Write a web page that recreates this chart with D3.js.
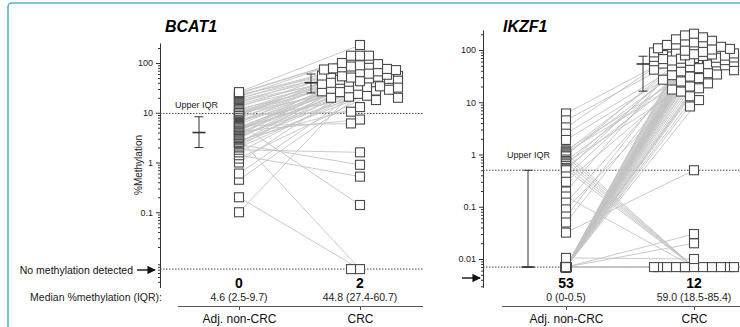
<!DOCTYPE html>
<html>
<head>
<meta charset="utf-8">
<script src="https://cdn.jsdelivr.net/npm/d3@7"></script>
<style>
  body { margin: 0; background: #fff; }
  svg { display: block; font-family: "Liberation Sans", Arial, Helvetica, sans-serif; }
</style>
</head>
<body>
<svg id="chart" width="740" height="327"></svg>
<script>
// ---- data (0 = no methylation detected) ----
var groups = ["Adj. non-CRC", "CRC"];

// BCAT1, paired per patient: adjacent tissue vs tumour
var bcat1Adj = [0.1, 0.2, 0.45, 0.6, 1.0, 1.2, 1.4, 1.6, 1.8, 2.0,
  2.1, 2.3, 2.4, 2.5, 2.5, 2.6, 2.8, 3.0, 3.1, 3.2,
  3.3, 3.5, 3.6, 3.8, 4.0, 4.2, 4.4, 4.5, 4.6, 4.6,
  4.8, 5.0, 5.2, 5.5, 5.8, 6.0, 6.3, 6.6, 7.0, 7.4,
  7.8, 8.2, 8.6, 9.0, 9.3, 9.5, 9.7, 9.7, 10, 10.5,
  11, 12, 13, 14, 15, 16, 17, 18, 19, 20,
  21, 22, 23, 24, 25, 26];
var bcat1Crc = [36, 0, 22, 28, 41, 18, 0.52, 30, 1.6, 24,
  47, 0.9, 20, 33, 52, 26, 13, 0, 39, 45,
  29, 60, 21, 50, 34, 7.3, 55, 31, 42, 66,
  27, 48, 38, 6.1, 53, 0.14, 70, 35, 44, 20,
  58, 40, 76, 10.5, 49, 63, 32, 80, 46, 56,
  72, 43, 85, 51, 61, 90, 54, 68, 100, 74,
  140, 95, 78, 140, 140, 230];
var bcat1Median = ["4.6 (2.5-9.7)", "44.8 (27.4-60.7)"];
var bcat1Bars = [[4.0, 2.0, 8.3], [40, 25, 60]];   // centre, low, high
var bcat1UpperIqr = 9.7;

// IKZF1
var ikzf1Adj = [6.1, 4.5, 3.3, 2.5, 1.9, 1.2, 1.14, 1.1, 1.05, 1.0,
  0.95, 0.92, 0.8, 0.75, 0.7, 0.7, 0.65, 0.6, 0.55, 0.52,
  0.5, 0.38, 0.30, 0.196, 0.157, 0.12, 0.089, 0.065, 0.05, 0.032,
  0.0105,
  0, 0, 0, 0, 0, 0, 0, 0, 0, 0,
  0, 0, 0, 0, 0, 0, 0, 0, 0, 0,
  0, 0, 0, 0, 0, 0, 0, 0, 0, 0,
  0, 0, 0, 0, 0, 0, 0, 0, 0, 0,
  0, 0, 0, 0, 0, 0, 0, 0, 0, 0,
  0, 0, 0];
var ikzf1Crc = [120, 95, 150, 75, 60, 42, 88, 33, 0, 66,
  110, 0, 0, 53, 0, 25, 80, 0, 47, 0,
  100, 70, 36, 130, 0, 58, 29, 85, 62, 0.5,
  0.01,
  0, 0, 0, 0, 0, 0.02, 0.03, 8.3, 11, 13,
  16, 17.5, 18.5, 20, 23, 27, 31, 34, 39, 41,
  45, 49, 51, 55, 57, 59, 61, 63, 64, 67,
  68, 71, 72, 74, 77, 78, 79, 82, 83, 86,
  90, 92, 97, 102, 105, 108, 115, 125, 140, 160,
  175, 190, 205];
var ikzf1Median = ["0 (0-0.5)", "59.0 (18.5-85.4)"];
var ikzf1Bars = [[0, 0, 0.5], [54, 16.3, 76]];
var ikzf1UpperIqr = 0.5;

var svg = d3.select("#chart");

// frame of the figure
svg.append("rect")
  .attr("x", 8).attr("y", 3).attr("width", 800).attr("height", 400).attr("rx", 4)
  .attr("fill", "none").attr("stroke", "#5ab3c6").attr("stroke-width", 1.6);

svg.append("defs").append("marker")
  .attr("id", "arrow").attr("viewBox", "0 0 10 10").attr("refX", 9).attr("refY", 5)
  .attr("markerWidth", 6).attr("markerHeight", 6).attr("orient", "auto")
  .append("path").attr("d", "M0,0L10,5L0,10z").attr("fill", "#111");

// scatter squares sideways inside +-w, trading overlap against distance from centre
function spread(ys, size, w) {
  var order = ys.map(function (d, i) { return i; }).sort(function (a, b) { return ys[a] - ys[b]; });
  var placed = [], off = [];
  order.forEach(function (i) {
    var best = 0, bestCost = Infinity;
    for (var k = 0; k <= 2 * w; k++) {
      var o = (k % 2 ? -1 : 1) * Math.ceil(k / 2);
      var cost = 0.25 * Math.abs(o);
      placed.forEach(function (p) {
        cost += Math.max(0, size - Math.abs(p.x - o)) * Math.max(0, size - Math.abs(p.y - ys[i]));
      });
      if (cost < bestCost) { bestCost = cost; best = o; }
    }
    off[i] = best;
    placed.push({ x: best, y: ys[i] });
  });
  return off;
}

function panel(p) {
  var y = d3.scaleLog().domain([0.01, 100]).range([p.y001, p.y100]);
  var yv = function (v) { return y(v > 0 ? v : p.nm); };
  var x = d3.scalePoint().domain(groups).range([p.adjX, p.crcX]);
  var g = svg.append("g");

  // title
  g.append("text").attr("x", p.titleX).attr("y", 32)
    .attr("font-size", 16).attr("font-weight", "bold").attr("font-style", "italic")
    .text(p.title);

  // y axis
  var ax = y.copy().domain([p.lo, p.hi]).range([y(p.lo), y(p.hi)]);
  var minor = [];
  [0.001, 0.01, 0.1, 1, 10, 100].forEach(function (d) {
    for (var m = 2; m < 10; m++) { var v = d * m; if (v >= p.lo && v <= p.hi) minor.push(v); }
  });
  var ya = g.append("g").attr("transform", "translate(" + p.axisX + ",0)");
  ya.call(d3.axisLeft(ax).tickValues(minor).tickSize(2).tickSizeOuter(0).tickFormat(""));
  ya.append("g").call(d3.axisLeft(ax).tickValues(p.ticks).tickSize(4).tickSizeOuter(0)
    .tickPadding(3).tickFormat(d3.format("~g")));
  ya.selectAll("path.domain").attr("stroke", "#333");
  ya.selectAll(".tick line").attr("stroke", "#333");
  ya.selectAll(".tick text").attr("font-size", 9).attr("fill", "#222")
    .attr("font-family", "\"Liberation Sans\", Arial, sans-serif");

  // dotted reference lines
  [p.upper, p.nm].forEach(function (v) {
    g.append("line").attr("x1", p.axisX).attr("x2", p.dotEnd)
      .attr("y1", y(v)).attr("y2", y(v))
      .attr("stroke", "#444").attr("stroke-width", 1).attr("stroke-dasharray", "1.5,1.5");
  });
  g.append("text").attr("x", p.iqrX).attr("y", p.iqrY).attr("font-size", 9).attr("fill", "#222")
    .text("Upper IQR");

  // paired lines, drawn to the column centres
  var pairs = p.adj.map(function (a, i) { return [a, p.crc[i]]; });
  g.append("g").selectAll("line").data(pairs).join("line")
    .attr("x1", x(groups[0])).attr("x2", x(groups[1]))
    .attr("y1", function (d) { return yv(d[0]); })
    .attr("y2", function (d) { return yv(d[1]); })
    .attr("stroke", "#c4c4c4").attr("stroke-width", 0.9);

  var s = 9;
  g.append("g").selectAll("rect").data(p.adj).join("rect")
    .attr("x", x(groups[0]) - s / 2).attr("y", function (d) { return yv(d) - s / 2; })
    .attr("width", s).attr("height", s)
    .attr("fill", "#fff").attr("stroke", "#4a4a4a").attr("stroke-width", 1.1);

  var off = spread(p.crc.map(yv), s, p.spread);
  g.append("g").selectAll("rect").data(p.crc).join("rect")
    .attr("x", function (d, i) { return x(groups[1]) + off[i] - s / 2; })
    .attr("y", function (d) { return yv(d) - s / 2; })
    .attr("width", s).attr("height", s)
    .attr("fill", "#fff").attr("stroke", "#4a4a4a").attr("stroke-width", 1.1);

  // error bars to the left of each column
  p.bars.forEach(function (b, i) {
    var cx = x(groups[i]) + p.barOff[i];
    var eb = g.append("g").attr("stroke", "#333");
    eb.append("line").attr("x1", cx).attr("x2", cx).attr("y1", yv(b[1])).attr("y2", yv(b[2])).attr("stroke-width", 1);
    [b[1], b[2]].forEach(function (v) {
      eb.append("line").attr("x1", cx - 4.5).attr("x2", cx + 4.5).attr("y1", yv(v)).attr("y2", yv(v)).attr("stroke-width", 1);
    });
    eb.append("line").attr("x1", cx - 6.5).attr("x2", cx + 6.5).attr("y1", yv(b[0])).attr("y2", yv(b[0])).attr("stroke-width", 1.6);
  });

  // arrow for "no methylation detected"
  g.append("line").attr("x1", p.arrow[0]).attr("x2", p.arrow[1]).attr("y1", p.arrow[2]).attr("y2", p.arrow[2])
    .attr("stroke", "#111").attr("stroke-width", 1.4).attr("marker-end", "url(#arrow)");

  // counts of undetected, medians, x axis
  var counts = [p.adj.filter(function (d) { return d === 0; }).length,
                p.crc.filter(function (d) { return d === 0; }).length];
  groups.forEach(function (c, i) {
    g.append("text").attr("x", x(c)).attr("y", 288).attr("text-anchor", "middle")
      .attr("font-size", 14).attr("font-weight", "bold").text(counts[i]);
    g.append("text").attr("x", x(c)).attr("y", 301).attr("text-anchor", "middle")
      .attr("font-size", 10.5).attr("fill", "#222").text(p.median[i]);
  });
  var xa = g.append("g").attr("transform", "translate(0,306)");
  xa.call(d3.axisBottom(x).tickSize(4).tickSizeOuter(0).tickPadding(4));
  xa.select("path.domain").attr("d", "M" + p.xAxis[0] + ",0.5H" + p.xAxis[1]).attr("stroke", "#555");
  xa.selectAll(".tick line").attr("stroke", "#555");
  xa.selectAll(".tick text").attr("font-size", 12).attr("fill", "#111")
    .attr("font-family", "\"Liberation Sans\", Arial, sans-serif");
}

panel({
  title: "BCAT1", titleX: 165, adj: bcat1Adj, crc: bcat1Crc, median: bcat1Median, bars: bcat1Bars,
  upper: bcat1UpperIqr, nm: 0.0072, lo: 0.0031, hi: 250, ticks: [0.1, 1, 10, 100],
  y001: 262, y100: 63, axisX: 160, adjX: 239, crcX: 360, dotEnd: 423, spread: 38,
  iqrX: 175, iqrY: 108, barOff: [-40, -49], arrow: [137, 155, 270], xAxis: [178, 423]
});
panel({
  title: "IKZF1", titleX: 503, adj: ikzf1Adj, crc: ikzf1Crc, median: ikzf1Median, bars: ikzf1Bars,
  upper: ikzf1UpperIqr, nm: 0.007, lo: 0.0029, hi: 240, ticks: [0.01, 0.1, 1, 10, 100],
  y001: 259, y100: 50, axisX: 483, adjX: 566, crcX: 694, dotEnd: 740, spread: 40,
  iqrX: 507, iqrY: 158, barOff: [-38, -51], arrow: [462, 480, 278], xAxis: [502, 745]
});

// left-hand labels
svg.append("text").attr("transform", "translate(142,165) rotate(-90)")
  .attr("text-anchor", "middle").attr("font-size", 10).attr("fill", "#222").text("%Methylation");
svg.append("text").attr("x", 133).attr("y", 270).attr("dy", "0.35em").attr("text-anchor", "end")
  .attr("font-size", 10.5).attr("fill", "#111").text("No methylation detected");
svg.append("text").attr("x", 162).attr("y", 301).attr("text-anchor", "end")
  .attr("font-size", 10.5).attr("fill", "#222").text("Median %methylation (IQR):");
</script>
</body>
</html>
